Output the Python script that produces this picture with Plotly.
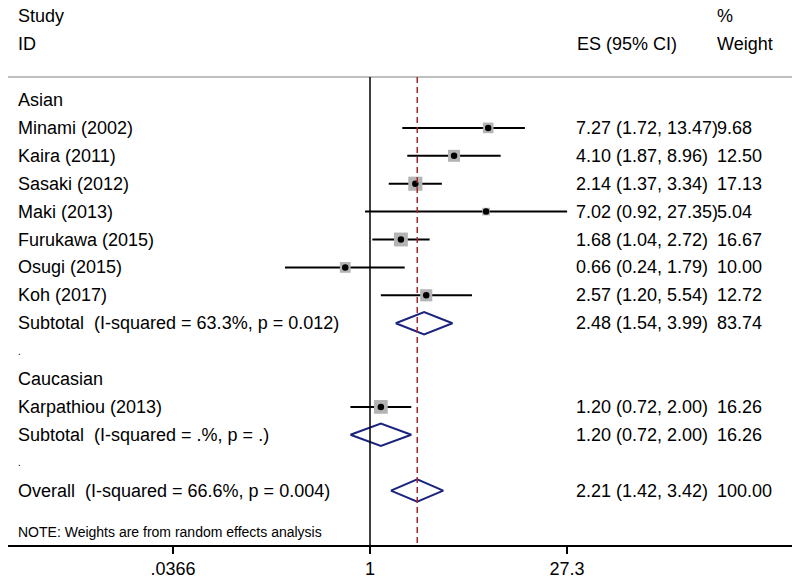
import plotly.graph_objects as go
import math

# ---------------- data ----------------
studies = ["Minami (2002)", "Kaira (2011)", "Sasaki (2012)", "Maki (2013)",
           "Furukawa (2015)", "Osugi (2015)", "Koh (2017)", "Karpathiou (2013)"]
study_rows = [1, 2, 3, 4, 5, 6, 7, 11]
es = [7.27, 4.10, 2.14, 7.02, 1.68, 0.66, 2.57, 1.20]
lo = [1.72, 1.87, 1.37, 0.92, 1.04, 0.24, 1.20, 0.72]
hi = [13.47, 8.96, 3.34, 27.35, 2.72, 1.79, 5.54, 2.00]
weight = [9.68, 12.50, 17.13, 5.04, 16.67, 10.00, 12.72, 16.26]

pooled_labels = ["Subtotal\u00a0 (I-squared = 63.3%, p = 0.012)",
                 "Subtotal\u00a0 (I-squared = .%, p = .)",
                 "Overall\u00a0 (I-squared = 66.6%, p = 0.004)"]
pooled_rows = [8, 12, 14]
pooled_es = [2.48, 1.20, 2.21]
pooled_lo = [1.54, 0.72, 1.42]
pooled_hi = [3.99, 2.00, 3.42]
pooled_weight = [83.74, 16.26, 100.00]

group_labels = ["Asian", "Caucasian"]
group_rows = [0, 10]
dot_rows = [9, 13]

tick_vals = [0.0366, 1, 27.3]
tick_text = [".0366", "1", "27.3"]
null_value = 1
overall_es = 2.21

# ---------------- layout helpers ----------------
W, H = 800, 583
ML, MR, MT, MB = 8, 8, 0, 38
PW = W - ML - MR

def px2paper(px):
    return (px - ML - 2) / PW

# log10 per pixel
lpp = math.log10(27.3) / 197.0
x_range = [-(370 - ML) * lpp, (W - MR - 370) * lpp]
row0_px, row_h = 100.0, 27.9
y_range = [(H - MB - row0_px) / row_h, (MT - row0_px) / row_h]
top_line_row = (77 - row0_px) / row_h

FONT = "Liberation Sans, Arial, sans-serif"
NAVY = "#1a237e"

fig = go.Figure()

# study CIs, squares, dots
for i in range(len(studies)):
    r = study_rows[i]
    fig.add_trace(go.Scatter(x=[lo[i], hi[i]], y=[r, r], mode="lines",
                             line=dict(color="black", width=2), hoverinfo="skip"))
for i in range(len(studies)):
    r = study_rows[i]
    fig.add_trace(go.Scatter(x=[es[i]], y=[r], mode="markers",
                             marker=dict(symbol="square", size=3.4 * math.sqrt(weight[i]),
                                         color="#b4b4b4", line=dict(width=0)),
                             hoverinfo="skip"))
fig.add_trace(go.Scatter(x=es, y=study_rows, mode="markers",
                         marker=dict(symbol="circle", size=6.5, color="black"),
                         hoverinfo="skip"))

# diamonds
for i in range(len(pooled_rows)):
    r = pooled_rows[i]
    fig.add_trace(go.Scatter(
        x=[pooled_lo[i], pooled_es[i], pooled_hi[i], pooled_es[i], pooled_lo[i]],
        y=[r, r - 0.4, r, r + 0.4, r], mode="lines",
        line=dict(color=NAVY, width=2), hoverinfo="skip"))

shapes = [
    dict(type="line", xref="paper", yref="y", x0=0, x1=1, y0=top_line_row, y1=top_line_row,
         line=dict(color="#aaaaaa", width=1.5)),
    dict(type="line", xref="x", yref="y", x0=null_value, x1=null_value,
         y0=top_line_row, y1=y_range[0],
         line=dict(color="black", width=1.5)),
    dict(type="line", xref="x", yref="y", x0=overall_es, x1=overall_es,
         y0=top_line_row, y1=y_range[0],
         line=dict(color="#a3282e", width=1.5, dash="6px,4px")),
]

ann = []
def add_text(px, row, text, size=18):
    ann.append(dict(xref="paper", yref="y", x=px2paper(px), y=row, text=text,
                    showarrow=False, xanchor="left", yanchor="middle",
                    font=dict(family=FONT, size=size, color="black")))

add_text(18, -3, "Study")
add_text(18, -2, "ID")
add_text(577, -2, "ES (95% CI)")
add_text(717, -3, "%")
add_text(717, -2, "Weight")

for g, r in zip(group_labels, group_rows):
    add_text(18, r, g)
for r in dot_rows:
    add_text(18, r, ".", size=10)
for i in range(len(studies)):
    r = study_rows[i]
    add_text(18, r, studies[i])
    add_text(576, r, f"{es[i]:.2f} ({lo[i]:.2f}, {hi[i]:.2f})")
    add_text(717, r, f"{weight[i]:.2f}")
for i in range(len(pooled_rows)):
    r = pooled_rows[i]
    add_text(18, r, pooled_labels[i])
    add_text(576, r, f"{pooled_es[i]:.2f} ({pooled_lo[i]:.2f}, {pooled_hi[i]:.2f})")
    add_text(717, r, f"{pooled_weight[i]:.2f}")

add_text(18, (532 - row0_px) / row_h, "NOTE: Weights are from random effects analysis", size=14)

fig.update_layout(
    width=W, height=H, autosize=False,
    margin=dict(l=ML, r=MR, t=MT, b=MB, pad=0),
    paper_bgcolor="white", plot_bgcolor="white",
    showlegend=False, shapes=shapes, annotations=ann,
    xaxis=dict(type="log", range=x_range, showgrid=False, zeroline=False,
               showline=True, linecolor="black", linewidth=1.5,
               ticks="outside", ticklen=7, tickwidth=1.5, tickcolor="black",
               tickvals=tick_vals, ticktext=tick_text,
               tickfont=dict(family=FONT, size=18, color="black")),
    yaxis=dict(range=y_range, visible=False, showgrid=False, zeroline=False),
)

fig.write_html("out.html", config={"displayModeBar": False},
               post_script="document.body.style.margin='0';document.body.style.overflow='hidden';")
